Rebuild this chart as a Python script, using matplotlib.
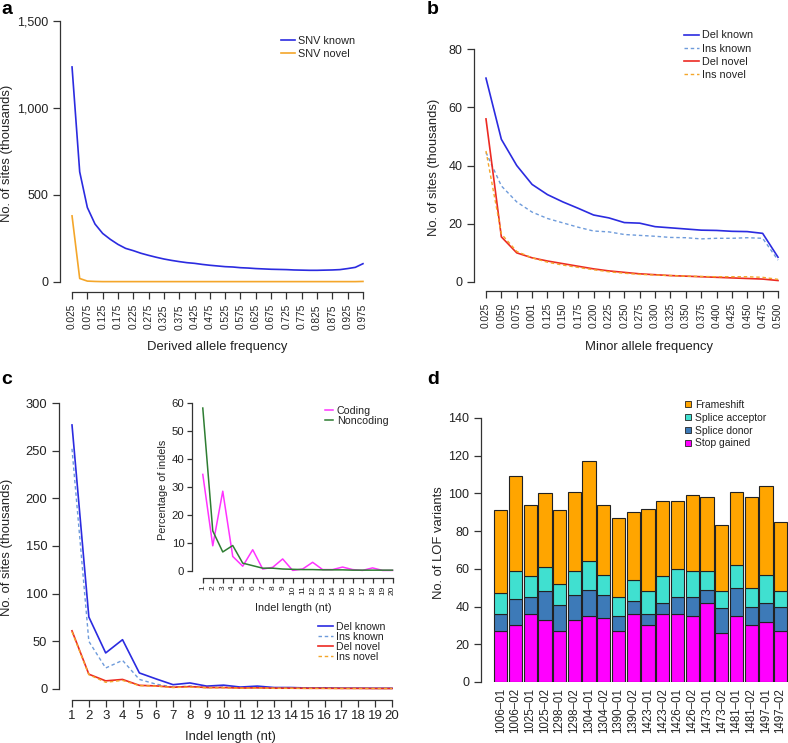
import numpy as np
import matplotlib
matplotlib.use("Agg")
import matplotlib.pyplot as plt
from matplotlib.patches import Patch

plt.rcParams['font.family'] = ['Liberation Sans', 'DejaVu Sans']
plt.rcParams['text.color'] = '#222222'
plt.rcParams['axes.edgecolor'] = '#333333'
plt.rcParams['xtick.color'] = '#333333'
plt.rcParams['ytick.color'] = '#333333'
plt.rcParams['xtick.labelcolor'] = '#222222'
plt.rcParams['ytick.labelcolor'] = '#222222'

# ---- panel a: SNV derived allele frequency spectrum ----
daf = np.arange(1, 40) * 0.025
snv_known = [1236, 633, 428, 333, 279, 245, 216, 193, 180, 165, 153, 142, 132, 124,
             117, 111, 107, 101, 96, 92, 88, 86, 82, 80, 77, 75, 73, 72, 71, 69,
             68, 67, 67, 68, 69, 71, 77, 84, 105]
snv_novel = [380, 20, 5, 3, 2, 2, 2, 2, 2, 2, 2, 2, 2, 2, 2, 2, 2, 2, 2, 2, 2, 2,
             2, 2, 2, 2, 2, 2, 2, 2, 2, 2, 2, 2, 2, 2, 2, 2, 3]

# ---- panel b: indel minor allele frequency ----
maf_labels = ['0.025', '0.050', '0.075', '0.001', '0.125', '0.150', '0.175', '0.200',
              '0.225', '0.250', '0.275', '0.300', '0.325', '0.350', '0.375', '0.400',
              '0.425', '0.450', '0.475', '0.500']
del_known_b = [70, 49, 40, 33.5, 30, 27.5, 25.3, 23, 22, 20.4, 20.2, 19, 18.6, 18.2,
               17.8, 17.7, 17.4, 17.3, 16.7, 8.5]
ins_known_b = [44.5, 33, 27.5, 24, 21.8, 20.3, 18.8, 17.5, 17.2, 16.3, 16, 15.7, 15.3,
               15.2, 14.8, 15, 15, 15.2, 15, 7.5]
del_novel_b = [56, 15.5, 10, 8.3, 7.2, 6.3, 5.4, 4.5, 3.8, 3.3, 2.8, 2.5, 2.2, 2.0,
               1.8, 1.6, 1.4, 1.2, 1.0, 0.5]
ins_novel_b = [45, 16.5, 10.5, 8.3, 6.8, 5.8, 5, 4.2, 3.5, 3.0, 2.6, 2.4, 2.2, 2.0,
               1.9, 1.8, 1.8, 1.8, 1.6, 0.9]

# ---- panel c: indel length ----
indel_len = list(range(1, 21))
del_known_c = [277, 75.5, 37.8, 51.7, 16.8, 10.5, 4.5, 6.3, 3, 4, 2, 3, 1.5, 1.5,
               1, 1.2, 0.8, 0.8, 0.7, 0.7]
ins_known_c = [252, 50, 22, 30, 10, 5, 2, 3, 1.5, 2, 1, 1.5, 0.8, 0.8, 0.8, 0.8,
               0.7, 0.7, 0.6, 0.6]
del_novel_c = [61, 15.5, 8.5, 10, 3.8, 3.2, 1.8, 2.5, 1.5, 1.5, 1, 1.2, 0.8, 0.8,
               0.7, 0.7, 0.6, 0.6, 0.5, 0.5]
ins_novel_c = [60, 15, 7, 9, 3.5, 3, 1.5, 2, 1.2, 1.2, 0.8, 1, 0.7, 0.7, 0.6, 0.6,
               0.5, 0.5, 0.5, 0.5]
coding = [34.5, 9, 28.5, 5.2, 1.7, 7.6, 0.7, 1.3, 4.3, 0.2, 0.7, 3.1, 0.5, 0.5,
          1.4, 0.5, 0.2, 1.1, 0.2, 0.2]
noncoding = [58.2, 14.3, 6.8, 9.1, 2.8, 1.9, 1.0, 1.0, 0.7, 0.6, 0.5, 0.5, 0.4,
             0.4, 0.4, 0.3, 0.3, 0.3, 0.3, 0.3]

# ---- panel d: LOF variants per sample ----
samples = ['1006–01', '1006–02', '1025–01', '1025–02', '1298–01', '1298–02',
           '1304–01', '1304–02', '1390–01', '1390–02', '1423–01', '1423–02',
           '1426–01', '1426–02', '1473–01', '1473–02', '1481–01', '1481–02',
           '1497–01', '1497–02']
stop_gained = [27, 30, 36, 33, 27, 33, 35, 34, 27, 36, 30, 36, 36, 35, 42, 26, 35, 30, 32, 27]
splice_donor = [9, 14, 9, 15, 14, 13, 14, 12, 8, 7, 6, 6, 9, 10, 7, 13, 15, 10, 10, 13]
splice_acceptor = [11, 15, 11, 13, 11, 13, 15, 11, 10, 11, 12, 14, 15, 14, 10, 9, 12, 10, 15, 8]
frameshift = [44, 50, 38, 39, 39, 42, 53, 37, 42, 36, 44, 40, 36, 40, 39, 35, 39, 48, 47, 37]

BLUE = '#2B2BE0'
LBLUE = '#6E9BDB'
RED = '#EC2A22'
ORANGE = '#F4A62A'
MAGENTA = '#FF33FF'
GREEN = '#2E7D32'

W, H = 788, 743


def box(l, t, r, b):
    return [l / W, 1 - b / H, (r - l) / W, (b - t) / H]


def rstyle(ax, xb, yb, fs_x, fs_y):
    for s in ['top', 'right']:
        ax.spines[s].set_visible(False)
    ax.spines['left'].set_bounds(*yb)
    ax.spines['bottom'].set_bounds(*xb)
    for s in ['left', 'bottom']:
        ax.spines[s].set_linewidth(0.9)
    ax.tick_params(direction='out', length=5, width=0.9)
    ax.tick_params(axis='x', labelsize=fs_x)
    ax.tick_params(axis='y', labelsize=fs_y)


def ftext(x, y, s, **kw):
    fig.text(x / W, 1 - y / H, s, ha='center', va='center', **kw)


def leg(ax, handles, labels, x, y, fs, **kw):
    ax.legend(handles, labels, loc='upper left', bbox_to_anchor=(x / W, 1 - y / H),
              bbox_transform=fig.transFigure, frameon=False, fontsize=fs,
              borderpad=0, borderaxespad=0, **kw)


fig = plt.figure(figsize=(W / 100, H / 100), dpi=100)

# panel a
ax = fig.add_axes(box(60.4, 10.6, 374.6, 292.4))
ax.plot(daf, snv_known, color=BLUE, lw=1.2)
ax.plot(daf, snv_novel, color=ORANGE, lw=1.2)
ax.set_xlim(-0.013, 1.013)
ax.set_ylim(-60, 1560)
ax.set_yticks([0, 500, 1000, 1500])
ax.set_yticklabels(['0', '500', '1,000', '1,500'])
ax.set_xticks(daf[::2])
ax.set_xticklabels([f'{v:.3f}' for v in daf[::2]], rotation=90)
rstyle(ax, (0.025, 0.975), (0, 1500), 7.3, 9)
h = ax.get_lines()
leg(ax, h, ['SNV known', 'SNV novel'], 281, 35.5, 7.8, handlelength=1.3,
    handletextpad=0.3, labelspacing=0.35)
ftext(217, 347, 'Derived allele frequency', fontsize=9.4)
ftext(7, 153, 'No. of sites (thousands)', fontsize=9.4, rotation=90)

# panel b
ax = fig.add_axes(box(474.3, 39.7, 789.7, 291.3))
xb = np.arange(1, 21)
ax.plot(xb, del_known_b, color=BLUE, lw=1.2, label='Del known')
ax.plot(xb, ins_known_b, color=LBLUE, lw=1.0, ls=(0, (2.5, 2)), label='Ins known')
ax.plot(xb, del_novel_b, color=RED, lw=1.2, label='Del novel')
ax.plot(xb, ins_novel_b, color=ORANGE, lw=1.0, ls=(0, (2.5, 2)), label='Ins novel')
ax.set_xlim(0.24, 20.76)
ax.set_ylim(-3.2, 83.2)
ax.set_yticks([0, 20, 40, 60, 80])
ax.set_xticks(xb)
ax.set_xticklabels(maf_labels, rotation=90)
rstyle(ax, (1, 20), (0, 80), 7.3, 9)
h, l = ax.get_legend_handles_labels()
leg(ax, h, l, 684, 30.5, 7.8, handlelength=1.4, handletextpad=0.3, labelspacing=0.3)
ftext(649, 347, 'Minor allele frequency', fontsize=9.4)
ftext(434, 167, 'No. of sites (thousands)', fontsize=9.4, rotation=90)

# panel c
ax = fig.add_axes(box(59.2, 391.6, 404.8, 700.4))
ax.plot(indel_len, del_known_c, color=BLUE, lw=1.2, label='Del known')
ax.plot(indel_len, ins_known_c, color=LBLUE, lw=1.0, ls=(0, (2.5, 2)), label='Ins known')
ax.plot(indel_len, del_novel_c, color=RED, lw=1.2, label='Del novel')
ax.plot(indel_len, ins_novel_c, color=ORANGE, lw=1.0, ls=(0, (2.5, 2)), label='Ins novel')
ax.set_xlim(0.24, 20.76)
ax.set_ylim(-12, 312)
ax.set_yticks([0, 50, 100, 150, 200, 250, 300])
ax.set_xticks(indel_len)
rstyle(ax, (1, 20), (0, 300), 9.5, 9.3)
ax.tick_params(axis='x', pad=2)
h, l = ax.get_legend_handles_labels()
leg(ax, h, l, 318, 622, 7.6, handlelength=1.4, handletextpad=0.3, labelspacing=0.0)
ftext(230, 737, 'Indel length (nt)', fontsize=9.4)
ftext(7, 547, 'No. of sites (thousands)', fontsize=9.4, rotation=90)

# inset
ax = fig.add_axes(box(192, 396.3, 397.5, 577.7))
ax.patch.set_alpha(0)
ax.plot(indel_len, coding, color=MAGENTA, lw=1.1, label='Coding')
ax.plot(indel_len, noncoding, color=GREEN, lw=1.1, label='Noncoding')
ax.set_xlim(-0.08, 20.5)
ax.set_ylim(-2.4, 62.4)
ax.set_yticks([0, 10, 20, 30, 40, 50, 60])
ax.set_xticks(indel_len)
ax.set_xticklabels([str(v) for v in indel_len], rotation=90)
rstyle(ax, (1, 20), (0, 60), 6, 8.2)
ax.tick_params(length=3.5, pad=2)
h, l = ax.get_legend_handles_labels()
leg(ax, h, l, 325, 406, 7.7, handlelength=0.75, handletextpad=0.37, labelspacing=0.0)
ftext(293, 608, 'Indel length (nt)', fontsize=7.8)
ftext(163, 490, 'Percentage of indels', fontsize=7.8, rotation=90)

# panel d
ax = fig.add_axes(box(481, 418, 788, 682))
xd = np.arange(len(samples))
cols = {'Stop gained': '#FF00FF', 'Splice donor': '#3D7AB8',
        'Splice acceptor': '#40E0D0', 'Frameshift': '#FFA500'}
bottom = np.zeros(len(samples))
for name, vals in [('Stop gained', stop_gained), ('Splice donor', splice_donor),
                   ('Splice acceptor', splice_acceptor), ('Frameshift', frameshift)]:
    ax.bar(xd, vals, 0.9, bottom=bottom, color=cols[name], edgecolor='#222222',
           linewidth=0.8)
    bottom += np.array(vals)
ax.set_xlim(-1.336, 19.5)
ax.set_ylim(0, 140)
ax.set_yticks(range(0, 141, 20))
ax.set_xticks(xd)
ax.set_xticklabels(samples, rotation=90)
for s in ['top', 'right', 'bottom']:
    ax.spines[s].set_visible(False)
ax.spines['left'].set_linewidth(0.9)
ax.tick_params(axis='y', direction='out', length=5, width=0.9, labelsize=9)
ax.tick_params(axis='x', length=0, labelsize=8.3, pad=4.3)
names = ['Frameshift', 'Splice acceptor', 'Splice donor', 'Stop gained']
hd = [Patch(facecolor=cols[n], edgecolor='#222222', linewidth=0.6) for n in names]
leg(ax, hd, names, 685, 399.7, 7.5, handlelength=0.55, handleheight=0.55,
    handletextpad=0.45, labelspacing=0.28)
ftext(439, 543, 'No. of LOF variants', fontsize=9.4, rotation=90)

# panel letters
for lab, x, y in [('a', 1, 9), ('b', 427, 9), ('c', 1, 380), ('d', 427, 380)]:
    fig.text(x / W, 1 - y / H, lab, fontsize=14, fontweight='bold', va='center', ha='left',
             color='black')

fig.savefig('out.png', dpi=100)
